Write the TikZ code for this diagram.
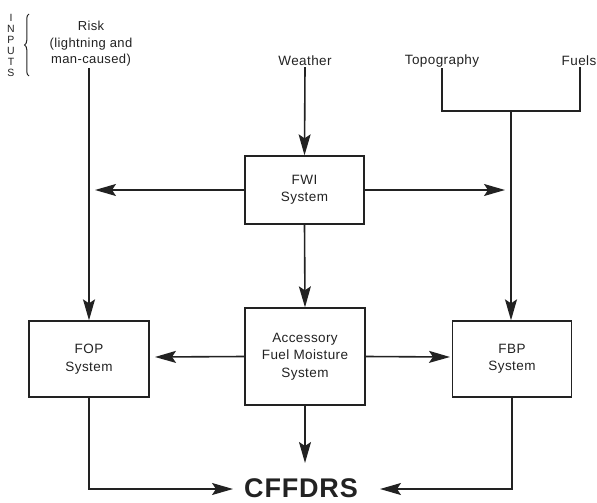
\documentclass[tikz,border=0pt]{standalone}
\usepackage{fontspec}
\setmainfont{Liberation Sans}[LetterSpace=3]
\usetikzlibrary{arrows.meta,decorations.pathreplacing}
\definecolor{ink}{RGB}{34,34,34}
\begin{document}
\begin{tikzpicture}[x=1pt,y=-1pt,
  every node/.style={text=ink},
  lbl/.style={font=\fontsize{13.5}{16}\selectfont, align=center, inner sep=1pt},
  sysbox/.style={draw=ink, line width=1.3pt, minimum width=119pt, align=center,
     font=\fontsize{13.5}{17.5}\selectfont},
  link/.style={draw=ink, line width=1.6pt},
  arr/.style={link, -{Stealth[length=21pt,width=12pt,inset=4pt]}}]
\useasboundingbox (0,0) rectangle (597,503);
% inputs
\node[font=\fontsize{10.5}{11}\selectfont, align=center, inner sep=0pt] (inp) at (11,45)
  {I\\N\\P\\U\\T\\S};
\draw[ink, line width=1pt, decorate, decoration={brace, amplitude=4.5pt}] (29,76) -- (29,14);
\node[lbl, font=\fontsize{13}{16.5}\selectfont] (risk) at (91,44) {Risk\\(lightning and\\man-caused)};
\node[lbl] (weather) at (305,61) {Weather};
\node[lbl] (topo) at (442,61) {Topography};
\node[lbl] (fuels) at (579,61) {Fuels};
% boxes
\node[sysbox, minimum height=68pt] (fwi) at (304.5,190) {FWI\\System};
\node[sysbox, minimum height=97pt, minimum width=120pt] (acc) at (305,356.5) {Accessory\\Fuel Moisture\\System};
\node[sysbox, minimum height=76pt, minimum width=120pt] (fop) at (89,359) {FOP\\System};
\node[sysbox, minimum height=76pt] (fbp) at (512,359) {FBP\\System};
\node[font=\bfseries\fontsize{27}{27}\selectfont, anchor=base, inner sep=0pt] (cff) at (301,497) {CFFDRS};
% coordinates
\coordinate (jr) at (580,111);
\coordinate (j) at (511,111);
\coordinate (fwil) at (95,190);
\coordinate (fwir) at (505,190);
\coordinate (accl) at (155,357);
\coordinate (accr) at (450,357);
\coordinate (accd) at (305,463);
\coordinate (cl) at (233,489);
\coordinate (cr) at (380,489);
% connectors
\draw[arr] (risk.south -| fop.north) -- (fop.north);
\draw[arr] (weather.south) -- (fwi.north);
\draw[link] (topo.south) |- (jr) -- (jr |- fuels.south);
\draw[arr] (j) -- (j |- fbp.north);
\draw[arr] (fwi.west) -- (fwil);
\draw[arr] (fwi.east) -- (fwir);
\draw[arr] (fwi.south) -- (acc.north);
\draw[arr] (acc.west) -- (accl);
\draw[arr] (acc.east) -- (accr);
\draw[arr] (acc.south) -- (accd);
\draw[arr] (fop.south) |- (cl);
\draw[arr] (fbp.south) |- (cr);
\end{tikzpicture}
\end{document}
